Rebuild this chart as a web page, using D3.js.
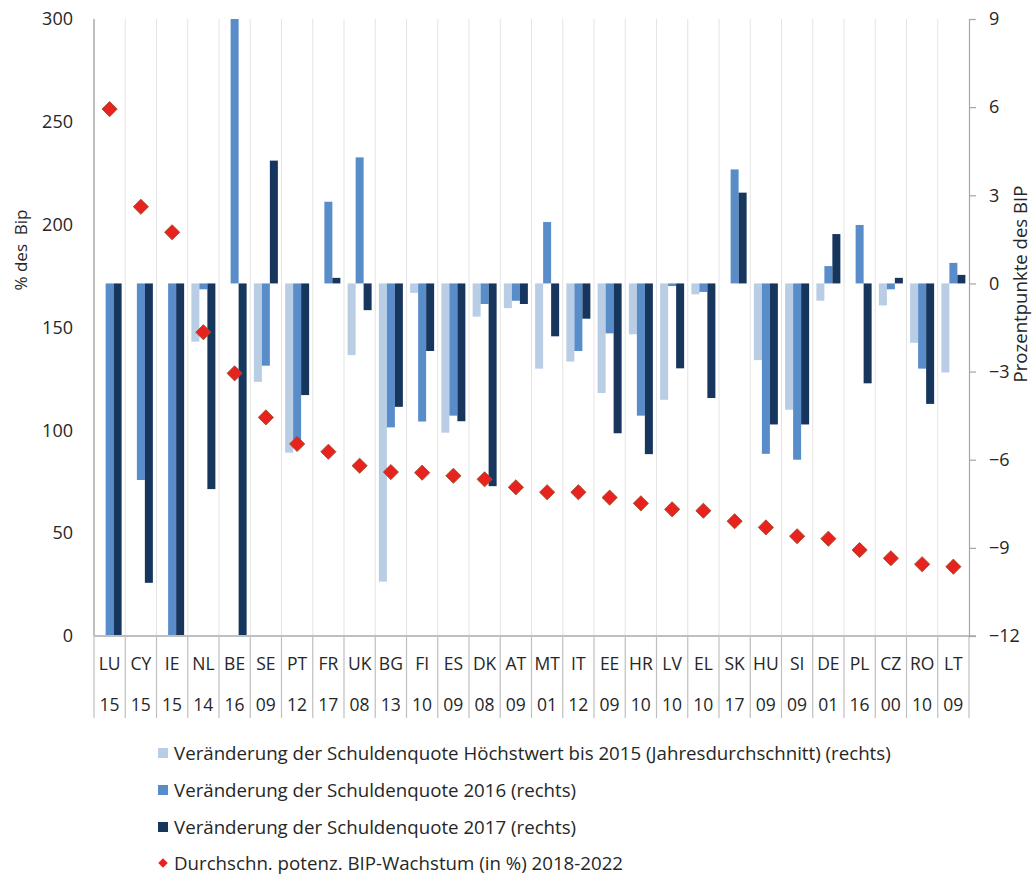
<!DOCTYPE html>
<html><head><meta charset="utf-8">
<script src="https://cdn.jsdelivr.net/npm/d3@7"></script>
<style>
body{margin:0;background:#fff;}
text{font-family:"Open Sans",Lato,sans-serif;fill:#262626;}
</style></head>
<body><svg id="c" width="1034" height="875"></svg>
<script>
const countries = ["LU","CY","IE","NL","BE","SE","PT","FR","UK","BG","FI","ES","DK","AT","MT","IT","EE","HR","LV","EL","SK","HU","SI","DE","PL","CZ","RO","LT"];
const years = ["15","15","15","14","16","09","12","17","08","13","10","09","08","09","01","12","09","10","10","10","17","09","09","01","16","00","10","09"];
const peak2015 = [0,0,0,-1.98,0,-3.35,-5.76,0,-2.44,-10.15,-0.32,-5.08,-1.13,-0.84,-2.9,-2.66,-3.73,-1.73,-3.96,-0.37,0,-2.61,-4.3,-0.59,0,-0.75,-2.02,-3.03];
const chg2016 = [-14,-6.69,-14,-0.2,11,-2.8,-5.33,2.78,4.29,-4.9,-4.7,-4.5,-0.7,-0.59,2.09,-2.3,-1.7,-4.5,-0.09,-0.29,3.88,-5.8,-6.0,0.59,1.99,-0.2,-2.9,0.7];
const chg2017 = [-14,-10.19,-14,-7.0,-14,4.18,-3.8,0.19,-0.91,-4.2,-2.3,-4.69,-6.9,-0.7,-1.8,-1.2,-5.1,-5.81,-2.89,-3.9,3.09,-4.8,-4.8,1.68,-3.4,0.19,-4.1,0.29];
const potGrowth = [256.2,208.7,196.3,147.7,127.7,106.3,93.4,89.6,82.8,79.7,79.4,77.9,76.2,72.3,69.9,69.9,67.3,64.5,61.6,60.9,55.8,52.8,48.5,47.3,41.8,37.8,34.9,33.7];
const leftTicks = [0,50,100,150,200,250,300];
const rightTicks = [-12,-9,-6,-3,0,3,6,9];
const seriesNames = ["Veränderung der Schuldenquote Höchstwert bis 2015 (Jahresdurchschnitt) (rechts)","Veränderung der Schuldenquote 2016 (rechts)","Veränderung der Schuldenquote 2017 (rechts)","Durchschn. potenz. BIP-Wachstum (in %) 2018-2022"];
const colors = ["#b9cde5","#598dca","#17365d"];

const svg = d3.select("#c");
const L = 94, R = 969, T = 19, B = 636;
const x = d3.scaleBand().domain(countries).range([L, R]).paddingInner(0).paddingOuter(0);
const yL = d3.scaleLinear().domain([0,300]).range([B,T]);
const yR = d3.scaleLinear().domain([-12,9]).range([B,T]);
const bw = 8;
const sub = d3.scaleBand().domain([0,1,2]).range([0, bw*3]);
const off = (x.bandwidth() - bw*3)/2;

svg.append("defs").append("clipPath").attr("id","clip").append("rect")
  .attr("x",L).attr("y",T).attr("width",R-L).attr("height",B-T);

// vertical gridlines
const bounds = d3.range(countries.length+1).map(i => L + i*x.bandwidth());
svg.append("g").selectAll("line").data(bounds.slice(1,-1)).join("line")
  .attr("x1",d=>d).attr("x2",d=>d).attr("y1",T).attr("y2",B)
  .attr("stroke","#e3e3e3").attr("stroke-width",1);

// bars
const series = [peak2015, chg2016, chg2017];
const gBars = svg.append("g").attr("clip-path","url(#clip)");
series.forEach((vals, s) => {
  gBars.append("g").selectAll("rect").data(vals).join("rect")
    .attr("x",(d,i)=>x(countries[i]) + off + sub(s))
    .attr("width",bw)
    .attr("y",d=>Math.min(yR(d), yR(0)))
    .attr("height",d=>Math.abs(yR(d)-yR(0)))
    .attr("fill",colors[s]);
});

// axes lines
svg.append("line").attr("x1",L).attr("x2",L).attr("y1",T).attr("y2",B).attr("stroke","#bfbfbf").attr("stroke-width",2);
svg.append("line").attr("x1",L).attr("x2",R+7).attr("y1",B).attr("y2",B).attr("stroke","#bfbfbf").attr("stroke-width",2);

// category label table separators
svg.append("g").selectAll("line").data(bounds).join("line")
  .attr("x1",d=>d).attr("x2",d=>d).attr("y1",B).attr("y2",718)
  .attr("stroke","#bfbfbf").attr("stroke-width",1.2);

svg.append("g").selectAll("text").data(countries).join("text")
  .attr("x",d=>x(d)+x.bandwidth()/2).attr("y",670).attr("text-anchor","middle")
  .attr("font-size",17.5).text(d=>d);
svg.append("g").selectAll("text").data(years).join("text")
  .attr("x",(d,i)=>x(countries[i])+x.bandwidth()/2).attr("y",711).attr("text-anchor","middle")
  .attr("font-size",17.5).text(d=>d);

// left axis
const gl = svg.append("g").attr("transform",`translate(${L},0)`)
  .call(d3.axisLeft(yL).tickValues(leftTicks).tickSize(0).tickPadding(21));
gl.select(".domain").remove();
gl.selectAll("text").attr("font-size",18).attr("fill","#262626").style("font-family","Open Sans");

// right axis
const gr = svg.append("g").attr("transform",`translate(${R},0)`)
  .call(d3.axisRight(yR).tickValues(rightTicks).tickSize(7).tickPadding(13));
gr.select(".domain").attr("stroke","#a6a6a6").attr("stroke-width",1.2);
gr.selectAll(".tick line").attr("stroke","#a6a6a6").attr("stroke-width",1.2);
gr.selectAll("text").attr("font-size",18).attr("fill","#262626").style("font-family","Open Sans");

// axis titles
svg.append("text").attr("transform","translate(27,250) rotate(-90)").attr("text-anchor","middle")
  .attr("font-size",17).attr("xml:space","preserve").text("% des  Bip");
svg.append("text").attr("transform","translate(1027,284) rotate(-90)").attr("text-anchor","middle")
  .attr("font-size",18.6).text("Prozentpunkte des BIP");

// diamonds
svg.append("g").selectAll("path").data(potGrowth).join("path")
  .attr("transform",(d,i)=>`translate(${x(countries[i])+x.bandwidth()/2},${yL(d)}) rotate(45)`)
  .attr("d",d3.symbol().type(d3.symbolSquare).size(115))
  .attr("fill","#e8231f").attr("stroke","#9a4a22").attr("stroke-width",0.8);

// legend
const legY = [753,790,827,863];
const lg = svg.append("g");
seriesNames.forEach((n,i)=>{
  if (i<3) {
    lg.append("rect").attr("x",158).attr("y",legY[i]-5).attr("width",10).attr("height",10).attr("fill",colors[i]);
  } else {
    lg.append("path").attr("transform",`translate(163,${legY[i]}) rotate(45)`)
      .attr("d",d3.symbol().type(d3.symbolSquare).size(45)).attr("fill","#e8231f");
  }
  lg.append("text").attr("x",174).attr("y",legY[i]).attr("dy","0.35em").attr("font-size",18.7).text(n);
});
</script></body></html>
